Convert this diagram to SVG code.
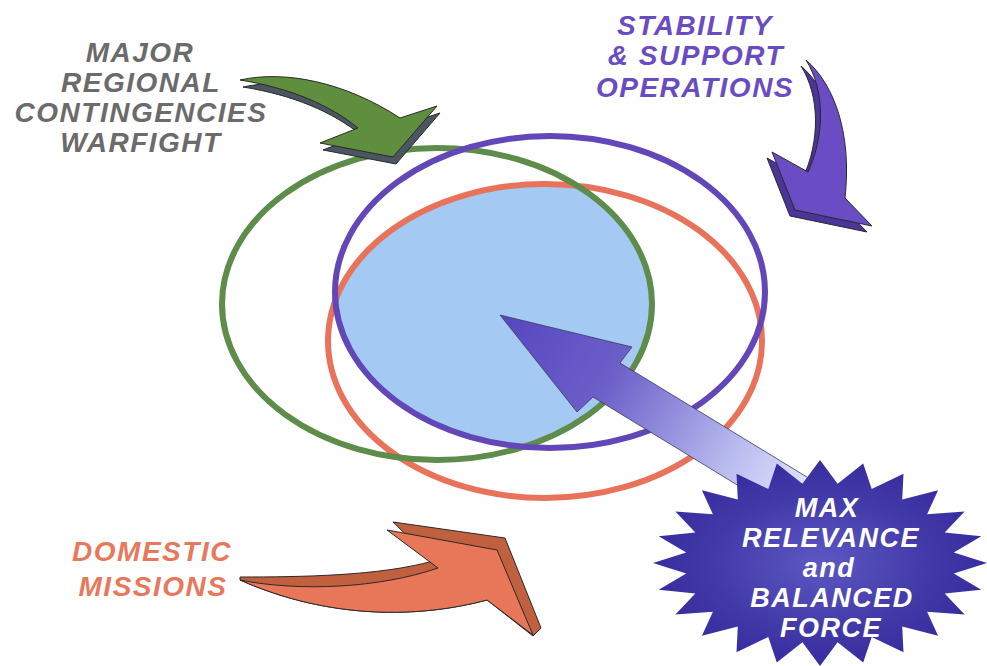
<svg xmlns="http://www.w3.org/2000/svg" width="987" height="666" viewBox="0 0 987 666">
<style>
.lbl{font-family:"Liberation Sans",Arial,sans-serif;font-weight:bold;font-style:italic;font-size:28px;letter-spacing:1.5px;text-anchor:middle}
.ring{fill:none;stroke-width:6}
.edge{stroke:#2a2a2a;stroke-width:1;stroke-linejoin:round}
</style>
<defs>
<clipPath id="cg"><ellipse cx="437" cy="304" rx="215" ry="156"/></clipPath>
<clipPath id="cp"><ellipse cx="550" cy="292" rx="215" ry="156"/></clipPath>
<linearGradient id="ga" gradientUnits="userSpaceOnUse" x1="500" y1="315" x2="810" y2="505">
<stop offset="0" stop-color="#5646bf"/>
<stop offset="0.35" stop-color="#6c5fc9"/>
<stop offset="0.75" stop-color="#b9bcef"/>
<stop offset="1" stop-color="#e6e9fb"/>
</linearGradient>
<radialGradient id="gs" cx="0.5" cy="0.5" r="0.55">
<stop offset="0" stop-color="#5c58c2"/>
<stop offset="0.6" stop-color="#4239a8"/>
<stop offset="1" stop-color="#35299c"/>
</radialGradient>
</defs>
<rect width="987" height="666" fill="#ffffff"/>

<g id="overlap">
<g clip-path="url(#cg)"><g clip-path="url(#cp)">
<ellipse cx="545" cy="341" rx="217" ry="157" fill="#a4c9f2"/>
</g></g>
</g>

<g id="ellipses">
<ellipse id="domestic-ring" class="ring" cx="545" cy="341" rx="217" ry="157" stroke="#e8735a"/>
<ellipse id="mrc-ring" class="ring" cx="437" cy="304" rx="215" ry="156" stroke="#5e8c4a"/>
<ellipse id="sso-ring" class="ring" cx="550" cy="292" rx="215" ry="156" stroke="#6347b8"/>
</g>

<g id="connectors">
<g id="arrow-mrc">
<path class="edge" transform="translate(3,7)" fill="#4a5660" d="M 240,80 C 285,70 345,82 400,118 L 437,106 L 393,157 L 320,143 L 358,128 C 330,105 290,88 240,80 Z"/>
<path class="edge" fill="#5f8f3e" d="M 240,80 C 285,70 345,82 400,118 L 437,106 L 393,157 L 320,143 L 358,128 C 330,105 290,88 240,80 Z"/>
</g>
<g id="arrow-sso">
<path class="edge" transform="translate(-5,6)" fill="#4b3598" d="M 806,60 C 835,85 852,135 845,198 L 872,226 L 795,210 L 772,152 L 808,172 C 825,135 825,90 806,60 Z"/>
<path class="edge" fill="#6a4dc4" d="M 806,60 C 835,85 852,135 845,198 L 872,226 L 795,210 L 772,152 L 808,172 C 825,135 825,90 806,60 Z"/>
</g>
<g id="arrow-domestic">
<path class="edge" fill="#c0603f" d="M 240,577 C 300,577 380,576 433,561 L 393,522 L 505,538 L 541,628 L 533,636 L 487,600 C 420,618 330,620 240,580 Z"/>
<path class="edge" fill="#e8775a" d="M 240,580 C 300,592 380,588 438,568 L 387,530 L 497,550 L 533,635 L 487,600 C 420,618 330,620 240,580 Z"/>
</g>
<path id="arrow-center" fill="url(#ga)" stroke="#3a3a5a" stroke-width="0.8" d="M 500,315 L 632,347 L 620,363 L 820,485 L 793,519 L 593,397 L 577,412 Z"/>
</g>

<g id="label-mrc" class="lbl" fill="#6b6b6b">
<text x="140" y="62">MAJOR</text>
<text x="141" y="92">REGIONAL</text>
<text x="141" y="122">CONTINGENCIES</text>
<text x="141" y="152">WARFIGHT</text>
</g>

<g id="label-sso" class="lbl" fill="#6a4cc2">
<text x="695" y="35">STABILITY</text>
<text x="696" y="65">&amp; SUPPORT</text>
<text x="695" y="97">OPERATIONS</text>
</g>

<g id="label-domestic" class="lbl" fill="#e8785c">
<text x="152" y="561">DOMESTIC</text>
<text x="153" y="596">MISSIONS</text>
</g>

<g id="star">
<polygon fill="url(#gs)" points="987,563 953.8,573.4 981.3,589.7 944.7,593.6 964.6,614.5 927.1,611.7 938.1,635.8 902.2,626.5 903.5,652.2 871.7,636.9 863.2,662.5 837.6,642.3 820,666 802.4,642.3 776.8,662.5 768.3,636.9 736.5,652.2 737.8,626.5 701.9,635.8 712.9,611.7 675.4,614.5 695.3,593.6 658.7,589.7 686.2,573.4 653,563 686.2,552.6 658.7,536.3 695.3,532.4 675.4,511.5 712.9,514.3 701.9,490.2 737.8,499.5 736.5,473.8 768.3,489.1 776.8,463.5 802.4,483.7 820,460 837.6,483.7 863.2,463.5 871.7,489.1 903.5,473.8 902.2,499.5 938.1,490.2 927.1,514.3 964.6,511.5 944.7,532.4 981.3,536.3 953.8,552.6"/>
<g class="lbl" fill="#ffffff" style="font-size:27px">
<text x="827" y="517">MAX</text>
<text x="831" y="547">RELEVANCE</text>
<text x="829" y="577">and</text>
<text x="832" y="607">BALANCED</text>
<text x="831" y="637">FORCE</text>
</g>
</g>
</svg>
